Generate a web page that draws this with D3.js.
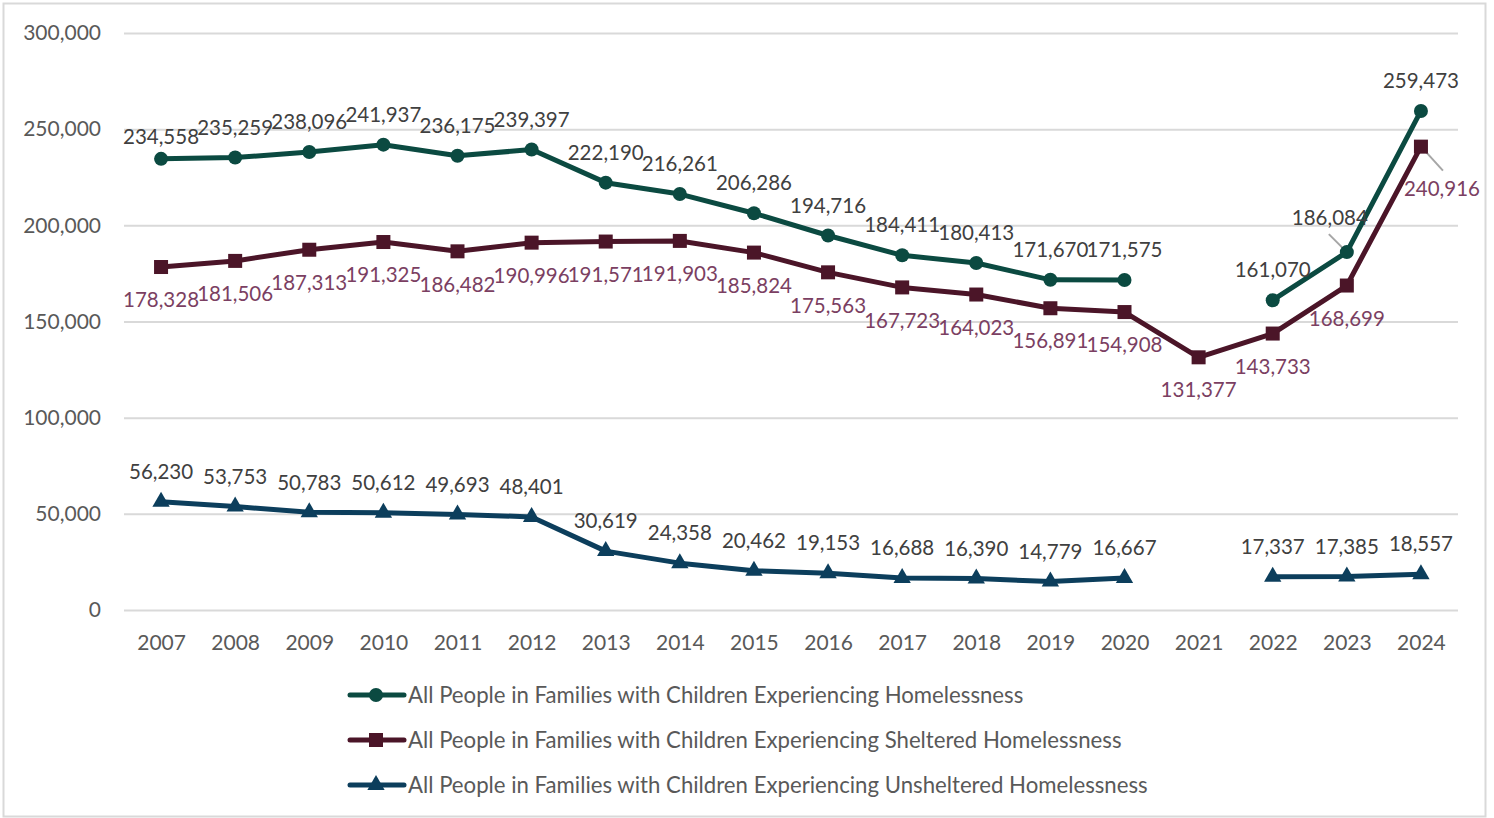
<!DOCTYPE html>
<html>
<head>
<meta charset="utf-8">
<script src="https://cdn.jsdelivr.net/npm/d3@7"></script>
<style>
  html, body { margin: 0; padding: 0; background: #fff; }
  svg { display: block; font-family: Lato, "Open Sans", sans-serif; }
</style>
</head>
<body>
<svg id="chart" width="1494" height="818"></svg>
<script>
// ---- data ----
const years = ["2007","2008","2009","2010","2011","2012","2013","2014","2015","2016","2017","2018","2019","2020","2021","2022","2023","2024"];
const totalValues = [234558, 235259, 238096, 241937, 236175, 239397, 222190, 216261, 206286, 194716, 184411, 180413, 171670, 171575, null, 161070, 186084, 259473];
const shelteredValues = [178328, 181506, 187313, 191325, 186482, 190996, 191571, 191903, 185824, 175563, 167723, 164023, 156891, 154908, 131377, 143733, 168699, 240916];
const unshelteredValues = [56230, 53753, 50783, 50612, 49693, 48401, 30619, 24358, 20462, 19153, 16688, 16390, 14779, 16667, null, 17337, 17385, 18557];
const yTickValues = [0, 50000, 100000, 150000, 200000, 250000, 300000];
const seriesNames = [
  "All People in Families with Children Experiencing Homelessness",
  "All People in Families with Children Experiencing Sheltered Homelessness",
  "All People in Families with Children Experiencing Unsheltered Homelessness"
];

// ---- styling / layout ----
const series = [
  { name: seriesNames[0], values: totalValues, color: "#0B4A41", labelColor: "#404040", marker: "circle", labelPos: "above" },
  { name: seriesNames[1], values: shelteredValues, color: "#4B1528", labelColor: "#7B3F62", marker: "square", labelPos: "below" },
  { name: seriesNames[2], values: unshelteredValues, color: "#0C3E5C", labelColor: "#404040", marker: "triangle", labelPos: "above" }
];
// individually moved data labels (series index, year, dx, dy, leader line)
const labelAdjust = [
  { s: 0, year: "2007", dx: 0, dy: -22 },
  { s: 0, year: "2023", dx: -17, dy: -34, leader: true },
  { s: 1, year: "2024", dx: 21, dy: 42, leader: true }
];

const svg = d3.select("#chart");
const W = 1494, H = 818;
const plot = { left: 124, right: 1458, top: 33, bottom: 610 };
const fontSize = 21;
const labelFontSize = 20.5;

svg.append("rect").attr("x", 3.5).attr("y", 3.5).attr("width", W - 12).attr("height", H - 5)
  .attr("fill", "#fff").attr("stroke", "#d9d9d9").attr("stroke-width", 2);

const x = d3.scalePoint().domain(years).range([plot.left, plot.right]).padding(0.5);
const y = d3.scaleLinear().domain([0, 300000]).range([plot.bottom, plot.top]);

// y axis + gridlines
const yAxis = svg.append("g").attr("transform", `translate(${plot.left},0)`)
  .call(d3.axisLeft(y).tickValues(yTickValues).tickFormat(d3.format(",")).tickSize(-(plot.right - plot.left)).tickPadding(23));
yAxis.select(".domain").remove();
yAxis.selectAll(".tick line").attr("stroke", "#d9d9d9").attr("stroke-width", 2);
yAxis.selectAll(".tick text").attr("fill", "#595959").attr("font-size", fontSize).attr("font-family", "Lato");

// x axis
const xAxis = svg.append("g").attr("transform", `translate(0,${plot.bottom})`)
  .call(d3.axisBottom(x).tickSize(0));
xAxis.select(".domain").remove();
xAxis.selectAll(".tick text").attr("fill", "#595959").attr("font-size", fontSize).attr("font-family", "Lato")
  .attr("y", 33).attr("dy", "0.35em");

const line = d3.line().defined(d => d.v != null).x(d => x(d.year)).y(d => y(d.v));

function drawMarker(g, type, cx, cy, color) {
  if (type === "circle") {
    g.append("circle").attr("cx", cx).attr("cy", cy).attr("r", 7).attr("fill", color);
  } else if (type === "square") {
    g.append("rect").attr("x", cx - 7).attr("y", cy - 7).attr("width", 14).attr("height", 14).attr("fill", color);
  } else {
    g.append("path").attr("d", d3.symbol(d3.symbolTriangle, 130)()).attr("transform", `translate(${cx},${cy})`).attr("fill", color);
  }
}

const fmt = d3.format(",");

// leader lines first (under markers)
const leaderG = svg.append("g");

series.forEach((s, si) => {
  const pts = years.map((yr, i) => ({ year: yr, v: s.values[i] }));
  const g = svg.append("g");
  g.append("path").datum(pts).attr("d", line).attr("fill", "none").attr("stroke", s.color)
    .attr("stroke-width", 5).attr("stroke-linejoin", "round");
  pts.filter(p => p.v != null).forEach(p => drawMarker(g, s.marker, x(p.year), y(p.v), s.color));
});

series.forEach((s, si) => {
  const pts = years.map((yr, i) => ({ year: yr, v: s.values[i] }));
  pts.filter(p => p.v != null).forEach(p => {
    const px = x(p.year), py = y(p.v);
    let dx = 0, dy = s.labelPos === "above" ? -30 : 33;
    const adj = labelAdjust.find(a => a.s === si && a.year === p.year);
    if (adj) { dx = adj.dx; dy = adj.dy; }
    if (adj && adj.leader) {
      const lx = px + dx, ly = py + dy;
      if (dy < 0) {
        leaderG.append("line").attr("x1", lx - 1).attr("y1", ly + 16).attr("x2", px).attr("y2", py)
          .attr("stroke", "#a6a6a6").attr("stroke-width", 2);
      } else {
        leaderG.append("line").attr("x1", px + 2).attr("y1", py + 2).attr("x2", lx + 1).attr("y2", ly - 18)
          .attr("stroke", "#a6a6a6").attr("stroke-width", 2);
      }
    }
    svg.append("text").attr("x", px + dx).attr("y", py + dy).attr("dy", "0.35em")
      .attr("text-anchor", "middle").attr("font-size", labelFontSize).attr("font-family", "Lato")
      .attr("fill", s.labelColor).text(fmt(p.v));
  });
});

// legend
const legendY = [695, 740, 785];
series.forEach((s, si) => {
  const g = svg.append("g").attr("transform", `translate(0,${legendY[si]})`);
  g.append("line").attr("x1", 350).attr("x2", 404).attr("y1", 0).attr("y2", 0)
    .attr("stroke", s.color).attr("stroke-width", 5).attr("stroke-linecap", "round");
  drawMarker(g, s.marker, 376, 0, s.color);
  g.append("text").attr("x", 408).attr("y", 0).attr("dy", "0.35em").attr("font-size", 22.2)
    .attr("font-family", "Lato").attr("fill", "#595959").text(s.name);
});
</script>
</body>
</html>
